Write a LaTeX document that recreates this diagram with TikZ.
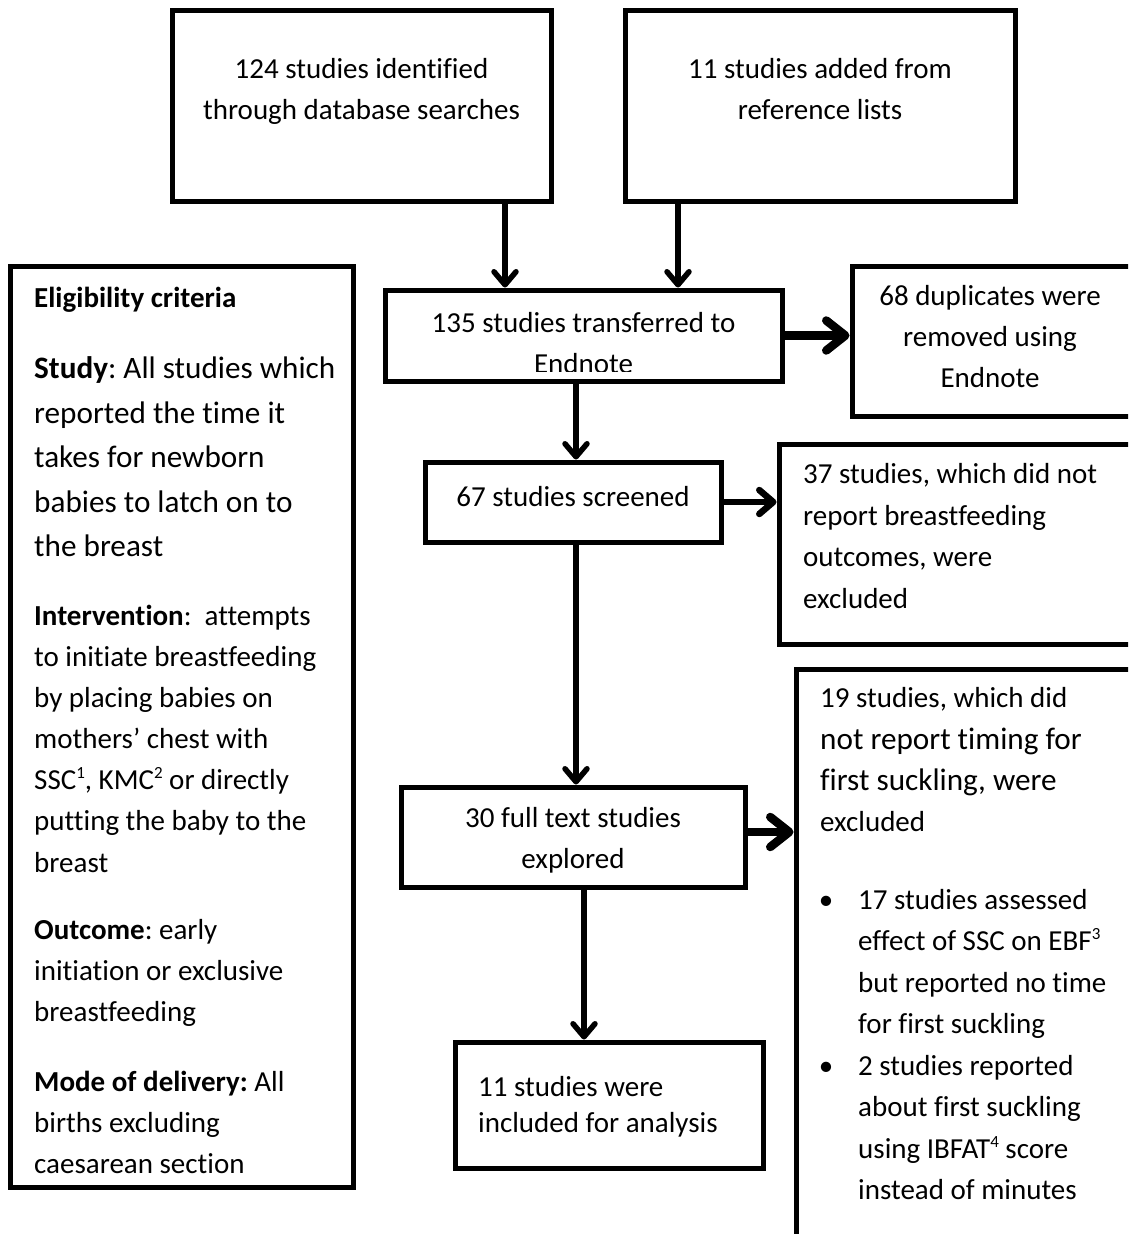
\documentclass[tikz,border=0pt]{standalone}
\usepackage{fontspec}
\setmainfont[Ligatures={NoCommon}]{Carlito}
\usetikzlibrary{arrows.meta}
\newcommand{\supx}[1]{\raisebox{0.36em}{\fontsize{17}{17}\selectfont #1}}
\begin{document}
\frenchspacing
\begin{tikzpicture}[x=1pt,y=-1pt,
  box/.style={draw, line width=5pt, rectangle, inner sep=0pt},
  varr/.style={line width=5.5pt, -{Straight Barb[length=13pt,width=22pt,round]}},
  marr/.style={line width=6.5pt, -{Straight Barb[length=14pt,width=24pt,round]}},
  tarr/.style={line width=8.5pt, -{Straight Barb[length=19pt,width=30pt,round]}},
  t11/.style={inner sep=0pt, font=\fontsize{29}{35}\selectfont},
  t12/.style={inner sep=0pt, font=\fontsize{31.2}{38}\selectfont},
  tl/.style={t11, anchor=base west},
  tc/.style={t11, anchor=base},
  tlb/.style={t12, anchor=base west}]
\useasboundingbox (0,0) rectangle (1128,1234);
\clip (0,0) rectangle (1128,1234);
\fill[white] (0,0) rectangle (1128,1234);

% boxes
\node[box, minimum width=379, minimum height=191] (A) at (361.5,105.5) {};
\node[box, minimum width=390, minimum height=191] (B) at (820,105.5) {};
\node[box, minimum width=397, minimum height=91] (C) at (583.5,335.5) {};
\node[box, minimum width=279, minimum height=150] (D) at (991.5,341) {};
\node[box, minimum width=296, minimum height=80] (E) at (573,502) {};
\node[box, minimum width=353, minimum height=200] (F) at (955.5,544) {};
\node[box, minimum width=336, minimum height=576] (G) at (964,957) {};
\node[box, minimum width=344, minimum height=100] (H) at (573,837) {};
\node[box, minimum width=308, minimum height=126] (I) at (609,1105) {};
\node[box, minimum width=343, minimum height=921] (L) at (181.5,726.5) {};

% helper coordinates for connector positions
\coordinate (xa) at (505,0);
\coordinate (xb) at (678,0);
\coordinate (xc) at (576,0);
\coordinate (xd) at (584,0);
\coordinate (yg) at (0,832);

% connectors
\draw[varr] (A.south -| xa) -- (C.north -| xa);
\draw[varr] (B.south -| xb) -- (C.north -| xb);
\draw[tarr] (C.east) -- (C.east -| D.west);
\draw[varr] (C.south -| xc) -- (E.north -| xc);
\draw[marr] (E.east) -- (E.east -| F.west);
\draw[varr] (E.south -| xc) -- (H.north -| xc);
\draw[tarr] (H.east |- yg) -- (G.west |- yg);
\draw[varr] (H.south -| xd) -- (I.north -| xd);

% box A text
\node[tc] (a1) at (361.5,78) {124 studies identified};
\node[tc] (a2) at (361.5,119) {through database searches};
% box B text
\node[tc] (b1) at (820,78) {11 studies added from};
\node[tc] (b2) at (820,119) {reference lists};
% box C text
\node[tc] (c1) at (583.5,332) {135 studies transferred to};
\begin{scope}
\clip (388,293) rectangle (779,371);
\node[tc] (c2) at (583.5,373) {Endnote};
\end{scope}
% box D text
\node[tc] (d1) at (990,305) {68 duplicates were};
\node[tc] (d2) at (990,346) {removed using};
\node[tc] (d3) at (990,387) {Endnote};
% box E text
\node[tc] (e1) at (573,506) {67 studies screened};
% box F text
\node[tl] (f1) at (803,483) {37 studies, which did not};
\node[tl] (f2) at (803,525) {report breastfeeding};
\node[tl] (f3) at (803,566) {outcomes, were};
\node[tl] (f4) at (803,608) {excluded};
% box G text
\node[tl] (g1) at (820,707) {19 studies, which did};
\node[tlb] (g2) at (820,749) {not report timing for};
\node[tlb] (g3) at (820,790) {first suckling, were};
\node[tl] (g4) at (820,831) {excluded};
\node[tc] (gb1) at (826,909) {\textbullet};
\node[tl] (g5) at (858,909) {17 studies assessed};
\node[tl] (g6) at (858,950) {effect of SSC on EBF\supx{3}};
\node[tl] (g7) at (858,992) {but reported no time};
\node[tl] (g8) at (858,1033) {for first suckling};
\node[tc] (gb2) at (826,1075) {\textbullet};
\node[tl] (g9) at (858,1075) {2 studies reported};
\node[tl] (g10) at (858,1116) {about first suckling};
\node[tl] (g11) at (858,1158) {using IBFAT\supx{4} score};
\node[tl] (g12) at (858,1199) {instead of minutes};
% box H text
\node[tc] (h1) at (573,827) {30 full text studies};
\node[tc] (h2) at (573,868) {explored};
% box I text
\node[tl] (i1) at (478,1096) {11 studies were};
\node[tl] (i2) at (478,1132) {included for analysis};
% box L text
\node[tl] (l1) at (34,307) {\textbf{Eligibility criteria}};
\node[tlb] (l2) at (34,378) {\textbf{Study}: All studies which};
\node[tlb] (l3) at (34,423) {reported the time it};
\node[tlb] (l4) at (34,467) {takes for newborn};
\node[tlb] (l5) at (34,512) {babies to latch on to};
\node[tlb] (l6) at (34,556) {the breast};
\node[tl] (l7) at (34,625) {\textbf{Intervention}:\ \ attempts};
\node[tl] (l8) at (34,666) {to initiate breastfeeding};
\node[tl] (l9) at (34,707) {by placing babies on};
\node[tl] (l10) at (34,748) {mothers’ chest with};
\node[tl] (l11) at (34,789) {SSC\supx{1}, KMC\supx{2} or directly};
\node[tl] (l12) at (34,830) {putting the baby to the};
\node[tl] (l13) at (34,872) {breast};
\node[tl] (l14) at (34,939) {\textbf{Outcome}: early};
\node[tl] (l15) at (34,980) {initiation or exclusive};
\node[tl] (l16) at (34,1021) {breastfeeding};
\node[tl] (l17) at (34,1091) {\textbf{Mode of delivery:} All};
\node[tl] (l18) at (34,1132) {births excluding};
\node[tl] (l19) at (34,1173) {caesarean section};
\end{tikzpicture}
\end{document}
